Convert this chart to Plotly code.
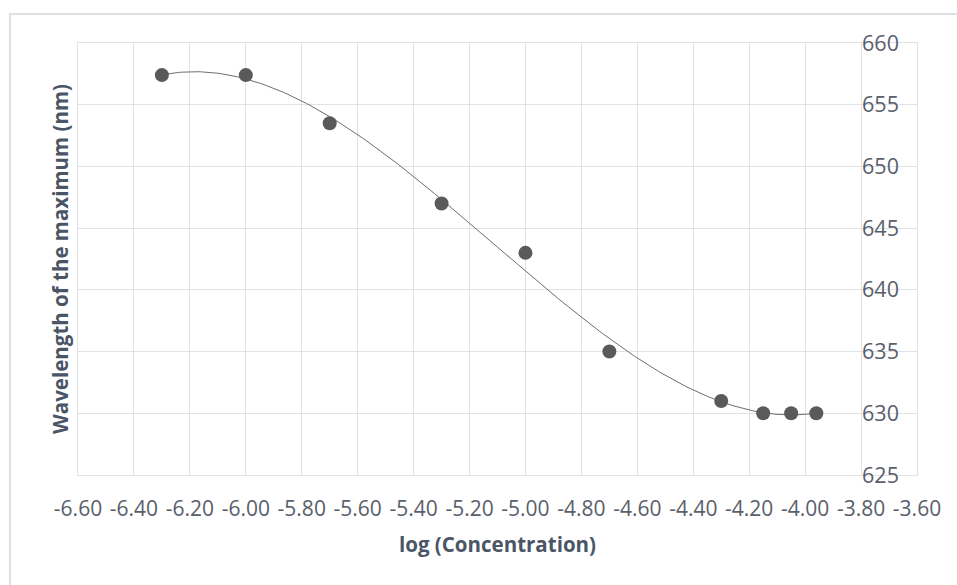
import numpy as np
import plotly.graph_objects as go

# Measured data: log of molar concentration vs. wavelength of the absorption maximum
log_conc = [-6.30, -6.00, -5.70, -5.30, -5.00, -4.70, -4.30, -4.15, -4.05, -3.96]
wavelength = [657.4, 657.4, 653.5, 647.0, 643.0, 635.0, 631.0, 630.0, 630.0, 630.0]

x_ticks = [round(-6.60 + 0.20 * i, 2) for i in range(16)]
y_ticks = [625, 630, 635, 640, 645, 650, 655, 660]

# Polynomial (3rd order) trendline fitted to the measured points
coef = np.polyfit(log_conc, wavelength, 3)
trend_x = np.linspace(min(log_conc), max(log_conc), 200)
trend_y = np.polyval(coef, trend_x)

TEXT = "#59606b"
TITLE = "#4a5566"
GRID = "#dfe3e8"
FONT = "Open Sans"

fig = go.Figure()
fig.add_trace(go.Scatter(
    x=trend_x, y=trend_y, mode="lines",
    line=dict(color="#6e6e6e", width=1), hoverinfo="skip", showlegend=False,
))
fig.add_trace(go.Scatter(
    x=log_conc, y=wavelength, mode="markers",
    marker=dict(color="#5a5a5a", size=14), showlegend=False,
))

L, R, T, B = 78, 40, 43, 110
W, H = 957, 585
pw = W - L - R

# vertical axis crosses the horizontal axis at -3.80
cross_x = -3.80
ypos = (cross_x - x_ticks[0]) / (x_ticks[-1] - x_ticks[0])

fig.update_layout(
    width=W, height=H,
    margin=dict(l=L, r=R, t=T, b=B),
    paper_bgcolor="white", plot_bgcolor="white",
    font=dict(family=FONT, color=TEXT),
    xaxis=dict(
        range=[x_ticks[0], x_ticks[-1]],
        tickvals=x_ticks, ticktext=[f"{v:.2f}" for v in x_ticks],
        tickfont=dict(size=21, color=TEXT),
        showgrid=True, gridcolor=GRID, gridwidth=1,
        zeroline=False, showline=True, linecolor=GRID, linewidth=1, mirror=True,
        ticks="outside", ticklen=0, ticklabelstandoff=15,
        title=dict(text="<b>log (Concentration)</b>",
                   font=dict(size=20.5, color=TITLE), standoff=16),
    ),
    yaxis=dict(
        range=[625, 660], tickvals=y_ticks,
        showgrid=True, gridcolor=GRID, gridwidth=1,
        zeroline=False, showline=True, linecolor=GRID, linewidth=1, mirror=True,
        showticklabels=False,
    ),
    yaxis2=dict(
        range=[625, 660], tickvals=y_ticks, overlaying="y",
        anchor="free", position=ypos, side="right",
        tickfont=dict(size=21.5, color=TEXT),
        showgrid=False, zeroline=False, showline=False,
        ticks="", ticklabelstandoff=0,
    ),
    shapes=[dict(
        type="rect", xref="paper", yref="paper",
        x0=(10 - L) / pw, x1=1.2, y0=-0.5, y1=1 + (T - 14) / (H - T - B),
        line=dict(color="#dde1e6", width=2), fillcolor="rgba(0,0,0,0)", layer="below",
    )],
    annotations=[dict(
        text="<b>Wavelength of the maximum (nm)</b>", textangle=-90,
        xref="paper", yref="paper", x=(60 - L) / pw, y=0.5,
        xanchor="center", yanchor="middle", showarrow=False,
        font=dict(size=20.5, color=TITLE, family=FONT),
    )],
)

# invisible trace to bring up the crossing vertical axis labels
fig.add_trace(go.Scatter(x=[None], y=[None], yaxis="y2", showlegend=False, hoverinfo="skip"))

fig.write_html("out.html")
